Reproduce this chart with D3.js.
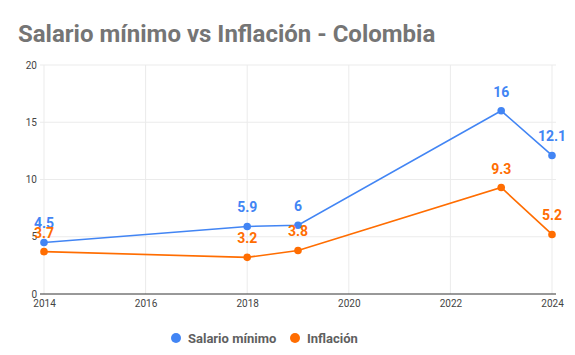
<!DOCTYPE html>
<html><head><meta charset="utf-8">
<script src="https://cdn.jsdelivr.net/npm/d3@7"></script>
<style>body{margin:0;background:#fff}svg{display:block}</style>
</head><body>
<script>
const years = [2014, 2018, 2019, 2023, 2024];
const salario = [4.5, 5.9, 6, 16, 12.1];
const inflacion = [3.7, 3.2, 3.8, 9.3, 5.2];
const xTicks = [2014, 2016, 2018, 2020, 2022, 2024];
const yTicks = [0, 5, 10, 15, 20];
const seriesNames = ["Salario mínimo", "Inflación"];
const colors = ["#4285F4", "#FF6D01"];

const W = 575, H = 355;
const svg = d3.select("body").append("svg").attr("width", W).attr("height", H);
const font = "Roboto, Arial, sans-serif";

svg.append("text").attr("x", 18).attr("y", 42).text("Salario mínimo vs Inflación - Colombia")
  .attr("font-family", font).attr("font-weight", "bold").attr("font-size", 24).attr("fill", "#757575");

const x = d3.scaleLinear().domain([2014, 2024]).range([44, 552]);
const y = d3.scaleLinear().domain([0, 20]).range([294, 65]);

svg.append("g").selectAll("line").data(yTicks.filter(d => d > 0)).join("line")
  .attr("x1", 40).attr("x2", 556).attr("y1", d => y(d)).attr("y2", d => y(d))
  .attr("stroke", "#ebebeb").attr("stroke-width", 1);
svg.append("g").selectAll("line").data(xTicks).join("line")
  .attr("x1", d => x(d)).attr("x2", d => x(d)).attr("y1", 65).attr("y2", 294)
  .attr("stroke", "#ebebeb").attr("stroke-width", 1);

const yAxis = d3.axisLeft(y).tickValues(yTicks).tickSize(0).tickPadding(0);
const gy = svg.append("g").attr("transform", "translate(37,0)").call(yAxis);
gy.select(".domain").remove();
gy.selectAll("text").attr("font-family", font).attr("font-size", 10).attr("fill", "#444");

const xAxis = d3.axisBottom(x).tickValues(xTicks).tickFormat(d3.format("d")).tickSize(0).tickPadding(6);
const gx = svg.append("g").attr("transform", `translate(0,${y(0)})`).call(xAxis);
gx.select(".domain").remove();
gx.selectAll("text").attr("font-family", font).attr("font-size", 10).attr("fill", "#444");
svg.append("line").attr("x1", 40).attr("x2", 556).attr("y1", y(0)).attr("y2", y(0))
  .attr("stroke", "#333").attr("stroke-width", 1);

const data = [salario, inflacion];
const line = d3.line().x((d, i) => x(years[i])).y(d => y(d));
data.forEach((s, k) => {
  svg.append("path").datum(s).attr("d", line).attr("fill", "none")
    .attr("stroke", colors[k]).attr("stroke-width", 1.6);
  svg.append("g").selectAll("circle").data(s).join("circle")
    .attr("cx", (d, i) => x(years[i])).attr("cy", d => y(d)).attr("r", 3.8).attr("fill", colors[k]);
  svg.append("g").selectAll("text").data(s).join("text")
    .attr("x", (d, i) => x(years[i])).attr("y", d => y(d) - 14)
    .attr("text-anchor", "middle").text(d => d)
    .attr("font-family", font).attr("font-weight", "bold").attr("font-size", 14).attr("fill", colors[k]);
});

const legendX = [176, 295];
seriesNames.forEach((n, k) => {
  svg.append("circle").attr("cx", legendX[k]).attr("cy", 338).attr("r", 5).attr("fill", colors[k]);
  svg.append("text").attr("x", legendX[k] + 12).attr("y", 343).text(n)
    .attr("font-family", font).attr("font-weight", "bold").attr("font-size", 13).attr("fill", "#5f5f5f");
});
</script>
</body></html>
